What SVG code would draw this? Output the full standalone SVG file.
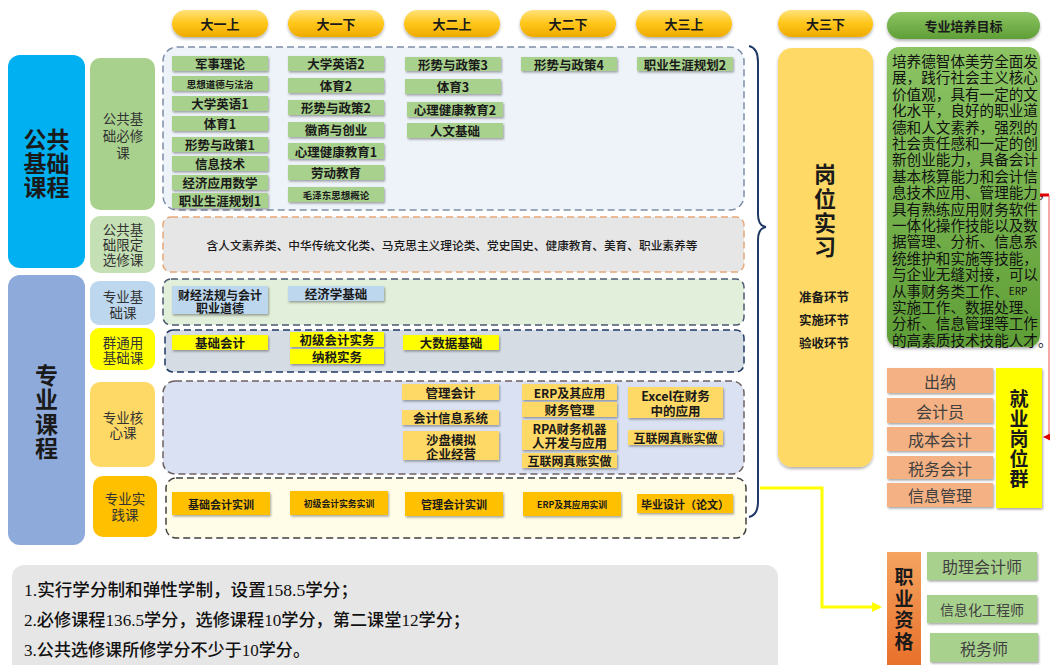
<svg xmlns="http://www.w3.org/2000/svg" width="1052" height="665" viewBox="0 0 1052 665">
<defs>
<linearGradient id="gHead" x1="0" y1="0" x2="0" y2="1"><stop offset="0" stop-color="#ffe27a"/><stop offset="0.5" stop-color="#ffc619"/><stop offset="1" stop-color="#eeaa00"/></linearGradient>
<linearGradient id="gGreen" x1="0" y1="0" x2="0" y2="1"><stop offset="0" stop-color="#8cc463"/><stop offset="1" stop-color="#5f9e36"/></linearGradient>
<linearGradient id="gOrange" x1="0" y1="0" x2="0" y2="1"><stop offset="0" stop-color="#f4a460"/><stop offset="1" stop-color="#e8702a"/></linearGradient>
<filter id="sh" x="-10%" y="-10%" width="130%" height="140%"><feDropShadow dx="1" dy="1.5" stdDeviation="0.8" flood-color="#000" flood-opacity="0.35"/></filter>
<filter id="sh2" x="-10%" y="-10%" width="130%" height="140%"><feDropShadow dx="0" dy="2" stdDeviation="1.5" flood-color="#000" flood-opacity="0.3"/></filter>
<marker id="arrY" markerWidth="10" markerHeight="10" refX="8" refY="5" orient="auto" markerUnits="userSpaceOnUse"><path d="M0,0 L10,5 L0,10 Z" fill="#ffff00"/></marker>
<marker id="arrR" markerWidth="7" markerHeight="7" refX="6" refY="3.5" orient="auto" markerUnits="userSpaceOnUse"><path d="M0,0 L7,3.5 L0,7 Z" fill="#e00000"/></marker>
<style>
text{font-family:"Noto Sans CJK SC","Liberation Sans",sans-serif;fill:#1a1a1a;text-anchor:middle;dominant-baseline:central}
.v{writing-mode:vertical-rl;text-orientation:upright}
.b{font-weight:700}
.hd{font-size:13px;font-weight:700}
.crs{font-size:12.5px;font-weight:700}
.sm{font-size:9.5px;font-weight:700}
.lab{font-size:13.5px;fill:#333}
.big{font-size:23px;font-weight:700}
.head{fill:url(#gHead)}
.cg{fill:#a9d18e}
.cb{fill:#bdd7ee}
.cy{fill:#ffff00}
.cc{fill:#ffd966}
.cp{fill:#ffc000}
.job{fill:#f4b183}
.jt{font-size:16px;fill:#404040}
.dash{stroke-dasharray:7 4;stroke-width:1.5}
.goal{font-size:14.6px;text-anchor:start;fill:#111}
.note{font-family:"Liberation Serif","Noto Sans CJK SC",serif;font-size:17px;text-anchor:start;fill:#111;font-weight:500}
</style>
</defs>

<!-- semester headers -->
<g id="headers">
<g id="h1"><rect x="172" y="10" width="96" height="27" rx="13.5" class="head" filter="url(#sh2)"/><text x="220" y="23.5" class="hd">大一上</text></g>
<g id="h2"><rect x="288" y="10" width="96" height="27" rx="13.5" class="head" filter="url(#sh2)"/><text x="336" y="23.5" class="hd">大一下</text></g>
<g id="h3"><rect x="404" y="10" width="96" height="27" rx="13.5" class="head" filter="url(#sh2)"/><text x="452" y="23.5" class="hd">大二上</text></g>
<g id="h4"><rect x="520" y="10" width="96" height="27" rx="13.5" class="head" filter="url(#sh2)"/><text x="568" y="23.5" class="hd">大二下</text></g>
<g id="h5"><rect x="636" y="10" width="96" height="27" rx="13.5" class="head" filter="url(#sh2)"/><text x="684" y="23.5" class="hd">大三上</text></g>
<g id="h6"><rect x="778" y="10" width="95" height="27" rx="13.5" class="head" filter="url(#sh2)"/><text x="825.5" y="23.5" class="hd">大三下</text></g>
<g id="h7"><rect x="887" y="12" width="153" height="27" rx="13.5" fill="url(#gGreen)" filter="url(#sh2)"/><text x="963.5" y="25.5" class="hd">专业培养目标</text></g>
</g>

<!-- left category blocks -->
<g id="cat-public"><rect x="8" y="55" width="77" height="213" rx="12" fill="#00b0f0"/><text class="big"><tspan x="46.5" y="138">公共</tspan><tspan x="46.5" y="162">基础</tspan><tspan x="46.5" y="186">课程</tspan></text></g>
<g id="cat-major"><rect x="8" y="275" width="77" height="270" rx="12" fill="#8eaadb"/><text class="big v" x="46.5" y="412.5" style="letter-spacing:1.5px">专业课程</text></g>

<!-- second column labels -->
<g id="lab1"><rect x="90" y="58" width="65" height="152" rx="10" fill="#a9d18e"/><text class="lab"><tspan x="123" y="118">公共基</tspan><tspan x="123" y="135">础必修</tspan><tspan x="123" y="152">课</tspan></text></g>
<g id="lab2"><rect x="90" y="216" width="65" height="57" rx="10" fill="#c5e0b4"/><text class="lab"><tspan x="123" y="229">公共基</tspan><tspan x="123" y="244">础限定</tspan><tspan x="123" y="259">选修课</tspan></text></g>
<g id="lab3"><rect x="90" y="281" width="65" height="44" rx="9" fill="#bdd7ee"/><text class="lab"><tspan x="123" y="296">专业基</tspan><tspan x="123" y="312">础课</tspan></text></g>
<g id="lab4"><rect x="90" y="328" width="65" height="42" rx="9" fill="#ffff00"/><text class="lab"><tspan x="123" y="342">群通用</tspan><tspan x="123" y="357">基础课</tspan></text></g>
<g id="lab5"><rect x="90" y="382" width="65" height="85" rx="10" fill="#ffd966"/><text class="lab"><tspan x="123" y="417">专业核</tspan><tspan x="123" y="432">心课</tspan></text></g>
<g id="lab6"><rect x="93" y="476" width="64" height="61" rx="10" fill="#ffc000"/><text class="lab"><tspan x="125" y="498">专业实</tspan><tspan x="125" y="514">践课</tspan></text></g>

<!-- dashed containers -->
<g id="containers">
<rect id="box1" x="163" y="47" width="581" height="163" rx="14" fill="#eef3fa" stroke="#7d8ea8" class="dash"/>
<rect id="box2" x="163" y="217" width="581" height="55" rx="8" fill="#e7e6e6" stroke="#e8a878" class="dash"/>
<rect id="box3" x="163" y="279" width="581" height="46" rx="8" fill="#e2efda" stroke="#4a5a70" class="dash"/>
<rect id="box4" x="165" y="330" width="579" height="42" rx="8" fill="#d6dce4" stroke="#1f3864" class="dash"/>
<rect id="box5" x="163" y="381" width="581" height="93" rx="12" fill="#d9e1f2" stroke="#6d6060" class="dash"/>
<rect id="box6" x="166" y="478" width="580" height="60" rx="10" fill="#fffde8" stroke="#404040" class="dash"/>
</g>

<!-- public required courses -->
<g id="c-junshi"><rect x="172" y="56" width="96" height="15" class="cg" filter="url(#sh)"/><text x="220" y="63.5" class="crs">军事理论</text></g>
<g id="c-sixiang"><rect x="172" y="76" width="96" height="15" class="cg" filter="url(#sh)"/><text x="220" y="83.5" class="sm">思想道德与法治</text></g>
<g id="c-yy1"><rect x="172" y="96" width="96" height="15" class="cg" filter="url(#sh)"/><text x="220" y="103.5" class="crs">大学英语1</text></g>
<g id="c-ty1"><rect x="172" y="116" width="96" height="15" class="cg" filter="url(#sh)"/><text x="220" y="123.5" class="crs">体育1</text></g>
<g id="c-xs1"><rect x="172" y="137" width="96" height="15" class="cg" filter="url(#sh)"/><text x="220" y="144.5" class="crs">形势与政策1</text></g>
<g id="c-xx"><rect x="172" y="156" width="96" height="15" class="cg" filter="url(#sh)"/><text x="220" y="163.5" class="crs">信息技术</text></g>
<g id="c-sx"><rect x="172" y="175" width="96" height="15" class="cg" filter="url(#sh)"/><text x="220" y="182.5" class="crs">经济应用数学</text></g>
<g id="c-zy1"><rect x="172" y="193" width="96" height="15" class="cg" filter="url(#sh)"/><text x="220" y="200.5" class="crs">职业生涯规划1</text></g>

<g id="c-yy2"><rect x="288" y="56" width="96" height="15" class="cg" filter="url(#sh)"/><text x="336" y="63.5" class="crs">大学英语2</text></g>
<g id="c-ty2"><rect x="288" y="78" width="96" height="15" class="cg" filter="url(#sh)"/><text x="336" y="85.5" class="crs">体育2</text></g>
<g id="c-xs2"><rect x="288" y="100" width="96" height="15" class="cg" filter="url(#sh)"/><text x="336" y="107.5" class="crs">形势与政策2</text></g>
<g id="c-hs"><rect x="288" y="122" width="96" height="15" class="cg" filter="url(#sh)"/><text x="336" y="129.5" class="crs">徽商与创业</text></g>
<g id="c-xl1"><rect x="288" y="143" width="96" height="16" class="cg" filter="url(#sh)"/><text x="336" y="151" class="crs">心理健康教育1</text></g>
<g id="c-ld"><rect x="288" y="165" width="96" height="15" class="cg" filter="url(#sh)"/><text x="336" y="172.5" class="crs">劳动教育</text></g>
<g id="c-mao"><rect x="288" y="187" width="96" height="15" class="cg" filter="url(#sh)"/><text x="336" y="194.5" class="sm">毛泽东思想概论</text></g>

<g id="c-xs3"><rect x="405" y="57" width="96" height="14" class="cg" filter="url(#sh)"/><text x="453" y="64" class="crs">形势与政策3</text></g>
<g id="c-ty3"><rect x="405" y="79" width="96" height="15" class="cg" filter="url(#sh)"/><text x="453" y="86.5" class="crs">体育3</text></g>
<g id="c-xl2"><rect x="407" y="102" width="96" height="15" class="cg" filter="url(#sh)"/><text x="455" y="109.5" class="crs">心理健康教育2</text></g>
<g id="c-rw"><rect x="407" y="123" width="96" height="15" class="cg" filter="url(#sh)"/><text x="455" y="130.5" class="crs">人文基础</text></g>
<g id="c-xs4"><rect x="521" y="57" width="96" height="14" class="cg" filter="url(#sh)"/><text x="569" y="64" class="crs">形势与政策4</text></g>
<g id="c-zy2"><rect x="637" y="57" width="96" height="14" class="cg" filter="url(#sh)"/><text x="685" y="64" class="crs">职业生涯规划2</text></g>

<!-- elective -->
<g id="c-elective"><text x="452" y="244" style="font-size:11.7px;font-weight:500">含人文素养类、中华传统文化类、马克思主义理论类、党史国史、健康教育、美育、职业素养等</text></g>

<!-- major foundation -->
<g id="c-cjfg"><rect x="172" y="286" width="96" height="28" class="cb" filter="url(#sh)"/><text class="crs" style="font-size:12px"><tspan x="220" y="293.5">财经法规与会计</tspan><tspan x="220" y="306.5">职业道德</tspan></text></g>
<g id="c-jjx"><rect x="288" y="286" width="96" height="15" class="cb" filter="url(#sh)"/><text x="336" y="293.5" class="crs">经济学基础</text></g>

<!-- group general -->
<g id="c-jckj"><rect x="172" y="335" width="96" height="15" class="cy" filter="url(#sh)"/><text x="220" y="342.5" class="crs">基础会计</text></g>
<g id="c-cjkj"><rect x="290" y="332" width="94" height="15" class="cy" filter="url(#sh)"/><text x="337" y="339.5" class="crs">初级会计实务</text></g>
<g id="c-ns"><rect x="290" y="349" width="94" height="15" class="cy" filter="url(#sh)"/><text x="337" y="356.5" class="crs">纳税实务</text></g>
<g id="c-dsj"><rect x="403" y="335" width="96" height="15" class="cy" filter="url(#sh)"/><text x="451" y="342.5" class="crs">大数据基础</text></g>

<!-- core -->
<g id="c-glkj"><rect x="402" y="384" width="97" height="16" class="cc" filter="url(#sh)"/><text x="450.5" y="392" class="crs">管理会计</text></g>
<g id="c-kjxx"><rect x="402" y="410" width="97" height="15" class="cc" filter="url(#sh)"/><text x="450.5" y="417.5" class="crs">会计信息系统</text></g>
<g id="c-sp"><rect x="403" y="431" width="96" height="29" class="cc" filter="url(#sh)"/><text class="crs"><tspan x="451" y="438.5">沙盘模拟</tspan><tspan x="451" y="452.5">企业经营</tspan></text></g>
<g id="c-erp"><rect x="522" y="384" width="95" height="16" class="cc" filter="url(#sh)"/><text x="569.5" y="392" class="crs" style="font-size:12px">ERP及其应用</text></g>
<g id="c-cw"><rect x="522" y="402" width="95" height="15" class="cc" filter="url(#sh)"/><text x="569.5" y="409.5" class="crs">财务管理</text></g>
<g id="c-rpa"><rect x="522" y="420" width="95" height="30" class="cc" filter="url(#sh)"/><text class="crs"><tspan x="569.5" y="428">RPA财务机器</tspan><tspan x="569.5" y="442">人开发与应用</tspan></text></g>
<g id="c-hlw1"><rect x="522" y="453" width="95" height="15" class="cc" filter="url(#sh)"/><text x="569.5" y="460.5" class="crs" style="font-size:12px">互联网真账实做</text></g>
<g id="c-excel"><rect x="628" y="387" width="95" height="31" class="cc" filter="url(#sh)"/><text class="crs"><tspan x="675.5" y="395">Excel在财务</tspan><tspan x="675.5" y="410">中的应用</tspan></text></g>
<g id="c-hlw2"><rect x="628" y="430" width="95" height="15" class="cc" filter="url(#sh)"/><text x="675.5" y="437.5" class="crs" style="font-size:12px">互联网真账实做</text></g>

<!-- practice -->
<g id="p-jc"><rect x="172" y="492" width="98" height="23" class="cp" filter="url(#sh)"/><text x="221" y="503.5" class="crs" style="font-size:11px">基础会计实训</text></g>
<g id="p-cj"><rect x="290" y="491" width="98" height="24" class="cp" filter="url(#sh)"/><text x="339" y="503" class="crs" style="font-size:8.8px">初级会计实务实训</text></g>
<g id="p-gl"><rect x="405" y="492" width="98" height="24" class="cp" filter="url(#sh)"/><text x="454" y="504" class="crs" style="font-size:11px">管理会计实训</text></g>
<g id="p-erp"><rect x="523" y="492" width="98" height="24" class="cp" filter="url(#sh)"/><text x="572" y="504" class="crs" style="font-size:8.8px">ERP及其应用实训</text></g>
<g id="p-by"><rect x="637" y="494" width="96" height="19" class="cp" filter="url(#sh)"/><text x="685" y="503.5" class="crs" style="font-size:11px">毕业设计（论文）</text></g>

<!-- internship -->
<g id="internship"><rect x="778" y="48" width="95" height="419" rx="14" fill="#ffd966" filter="url(#sh2)"/>
<text class="big v" x="825" y="211.5" style="font-size:22px;letter-spacing:2.3px">岗位实习</text>
<text class="b" style="font-size:12.5px"><tspan x="824" y="296">准备环节</tspan><tspan x="824" y="319">实施环节</tspan><tspan x="824" y="342">验收环节</tspan></text></g>

<!-- goal -->
<g id="goal"><rect x="887" y="47" width="153" height="300" rx="12" fill="url(#gGreen)" filter="url(#sh2)"/>
<text class="goal">
<tspan x="892" y="60">培养德智体美劳全面发</tspan>
<tspan x="892" y="76.4">展，践行社会主义核心</tspan>
<tspan x="892" y="92.8">价值观，具有一定的文</tspan>
<tspan x="892" y="109.2">化水平，良好的职业道</tspan>
<tspan x="892" y="125.6">德和人文素养，强烈的</tspan>
<tspan x="892" y="142">社会责任感和一定的创</tspan>
<tspan x="892" y="158.4">新创业能力，具备会计</tspan>
<tspan x="892" y="174.8">基本核算能力和会计信</tspan>
<tspan x="892" y="191.2">息技术应用、管理能力，</tspan>
<tspan x="892" y="207.6">具有熟练应用财务软件</tspan>
<tspan x="892" y="224">一体化操作技能以及数</tspan>
<tspan x="892" y="240.4">据管理、分析、信息系</tspan>
<tspan x="892" y="256.8">统维护和实施等技能，</tspan>
<tspan x="892" y="273.2">与企业无缝对接，可以</tspan>
<tspan x="892" y="289.6">从事财务类工作、<tspan style="font-size:10px">ERP</tspan></tspan>
<tspan x="892" y="306">实施工作、数据处理、</tspan>
<tspan x="892" y="322.4">分析、信息管理等工作</tspan>
<tspan x="892" y="338.8">的高素质技术技能人才。</tspan>
</text>
</g>

<!-- jobs -->
<g id="j1"><rect x="887" y="368" width="106" height="25" class="job" filter="url(#sh)"/><text x="940" y="380.5" class="jt">出纳</text></g>
<g id="j2"><rect x="887" y="398" width="106" height="25" class="job" filter="url(#sh)"/><text x="940" y="410.5" class="jt">会计员</text></g>
<g id="j3"><rect x="887" y="427" width="106" height="24" class="job" filter="url(#sh)"/><text x="940" y="439" class="jt">成本会计</text></g>
<g id="j4"><rect x="887" y="456" width="106" height="23" class="job" filter="url(#sh)"/><text x="940" y="467.5" class="jt">税务会计</text></g>
<g id="j5"><rect x="887" y="483" width="106" height="24" class="job" filter="url(#sh)"/><text x="940" y="495" class="jt">信息管理</text></g>
<g id="jobgroup"><rect x="996" y="368" width="46" height="140" fill="#ffff00" filter="url(#sh)"/>
<text class="b v" x="1019" y="439" style="font-size:19px;letter-spacing:1px">就业岗位群</text></g>

<!-- qualifications -->
<g id="qual"><rect x="887" y="552" width="34" height="113" fill="url(#gOrange)"/>
<text class="b v" x="904" y="610.5" style="font-size:19px;letter-spacing:2.5px">职业资格</text></g>
<g id="q1"><rect x="927" y="552" width="110" height="28" fill="#a9d18e" filter="url(#sh)"/><text x="982" y="566" class="jt">助理会计师</text></g>
<g id="q2"><rect x="927" y="595" width="110" height="28" fill="#a9d18e" filter="url(#sh)"/><text x="982" y="609" class="jt" style="font-size:14px">信息化工程师</text></g>
<g id="q3"><rect x="930" y="633" width="108" height="29" fill="#a9d18e" filter="url(#sh)"/><text x="984" y="647.5" class="jt">税务师</text></g>

<!-- notes -->
<g id="notes"><rect x="12" y="565" width="766" height="115" rx="12" fill="#e7e6e6"/>
<text class="note"><tspan x="24" y="590" textLength="334" lengthAdjust="spacingAndGlyphs">1.实行学分制和弹性学制，设置158.5学分；</tspan><tspan x="24" y="620" textLength="446" lengthAdjust="spacingAndGlyphs">2.必修课程136.5学分，选修课程10学分，第二课堂12学分；</tspan><tspan x="24" y="650" textLength="286" lengthAdjust="spacingAndGlyphs">3.公共选修课所修学分不少于10学分。</tspan></text></g>

<!-- connectors -->
<g id="connectors">
<path id="brace" d="M749,46 Q758,48 758,62 L758,214 Q758,226 766,227 Q758,228 758,240 L758,502 Q758,515 749,517" fill="none" stroke="#1f3864" stroke-width="2"/>
<path id="yellow-link" d="M760,488 L822,488 L822,607 L880,607" fill="none" stroke="#ffff00" stroke-width="3" marker-end="url(#arrY)"/>
<path id="red-stub" d="M1040,195 L1049,195" fill="none" stroke="#e00000" stroke-width="3"/>
<path id="red-link" d="M1049,195 L1049,437 L1044,437" fill="none" stroke="#f05050" stroke-width="1" marker-end="url(#arrR)"/>
</g>
</svg>
